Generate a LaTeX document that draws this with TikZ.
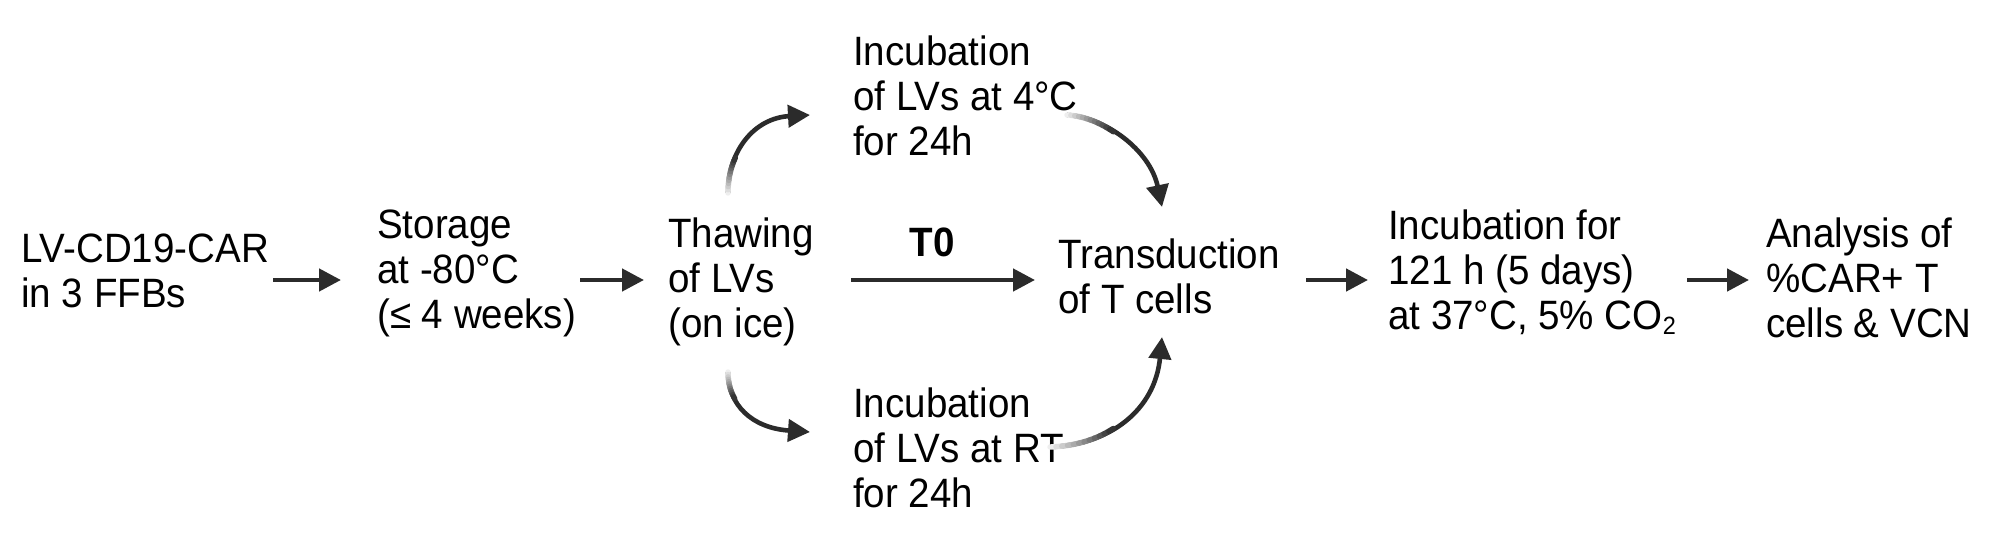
\documentclass[tikz,border=0pt]{standalone}
\usepackage{fontspec}
\setmainfont{Liberation Sans}[FakeStretch=0.94]
\usetikzlibrary{arrows.meta}
\definecolor{ink}{HTML}{2B2B2B}
\newcommand\tstrut{\rule{0pt}{34pt}}
\newcommand\subtwo{\raisebox{-5pt}{\fontsize{25}{25}\selectfont 2}}
% overlay a white-to-ink gradient on the first part of a curve
\newcommand\fadeover[5]{%
  \foreach \k in {0,...,11}{%
    \pgfmathsetmacro\ta{#5*\k/12}%
    \pgfmathsetmacro\tb{#5*(\k+1)/12}%
    \pgfmathtruncatemacro\sh{4+96*(\k+0.5)/12}%
    \path (#1) .. controls #2 and #3 .. (#4) coordinate[pos=\ta] (fa) coordinate[pos=\tb] (fb);%
    \draw[ink!\sh!white, line width=5.4pt, line cap=round] (fa) -- (fb);%
  }}
\begin{document}
\begin{tikzpicture}[x=1pt,y=-1pt,
  lbl/.style={anchor=north west, inner sep=0pt, align=left, font=\fontsize{41}{45}\selectfont},
  boldlbl/.style={anchor=base, inner sep=0pt, font=\fontsize{41}{45}\selectfont\bfseries},
  arr/.style={draw=ink, line width=4.6pt, -{Triangle[length=22pt,width=22pt]}},
]
\useasboundingbox[fill=white] (0,0) rectangle (2000,556);

% text blocks
\node[lbl] (lv)       at (21,228)   {\tstrut LV-CD19-CAR\\in 3 FFBs};
\node[lbl] (storage)  at (377,204)  {\tstrut Storage\\at -80°C\\(≤ 4 weeks)};
\node[lbl] (thaw)     at (668,213)  {\tstrut Thawing\\of LVs\\(on ice)};
\node[lbl] (inc4)     at (853,31)   {\tstrut Incubation\\of LVs at 4°C\\for 24h};
\node[lbl] (incrt)    at (853,383)  {\tstrut Incubation\\of LVs at RT\\for 24h};
\node[lbl] (transd)   at (1058,234) {\tstrut Transduction\\of T cells};
\node[lbl] (inc37)    at (1388,205) {\tstrut Incubation for\\121 h (5 days)\\at 37°C, 5\% CO\subtwo};
\node[lbl] (analysis) at (1766,213) {\tstrut Analysis of\\\%CAR+ T\\cells \& VCN};
\node[boldlbl] (t0)   at (932,256)  {T0};

% straight connectors
\coordinate (a1s) at (273,280);  \coordinate (a1e) at (341,280);
\coordinate (a2s) at (580,280);  \coordinate (a2e) at (644,280);
\coordinate (t0s) at (851,280);  \coordinate (t0e) at (1035,280);
\coordinate (a3s) at (1306,280); \coordinate (a3e) at (1368,280);
\coordinate (a4s) at (1687,280); \coordinate (a4e) at (1749,280);
\draw[arr] (a1s) -- (a1e);
\draw[arr] (a2s) -- (a2e);
\draw[arr] (t0s) -- (t0e);
\draw[arr] (a3s) -- (a3e);
\draw[arr] (a4s) -- (a4e);

% curved connectors
\coordinate (ca0) at (728,193);  \coordinate (ca1) at (810,115);
\coordinate (cb0) at (1067,115); \coordinate (cb1) at (1162,207);
\coordinate (cc0) at (728,372);  \coordinate (cc1) at (810,432);
\coordinate (cd0) at (1050,447); \coordinate (cd1) at (1162,337);

\draw[arr] (ca0) .. controls (728,150) and (755,118) .. (ca1);
\draw[arr] (cb0) .. controls (1105,117) and (1150,150) .. (cb1);
\draw[arr] (cc0) .. controls (728,405) and (752,428) .. (cc1);
\draw[arr] (cd0) .. controls (1110,445) and (1155,410) .. (cd1);

\fadeover{ca0}{(728,150)}{(755,118)}{ca1}{0.3}
\fadeover{cb0}{(1105,117)}{(1150,150)}{cb1}{0.4}
\fadeover{cc0}{(728,405)}{(752,428)}{cc1}{0.3}
\fadeover{cd0}{(1110,445)}{(1155,410)}{cd1}{0.4}
\end{tikzpicture}
\end{document}
